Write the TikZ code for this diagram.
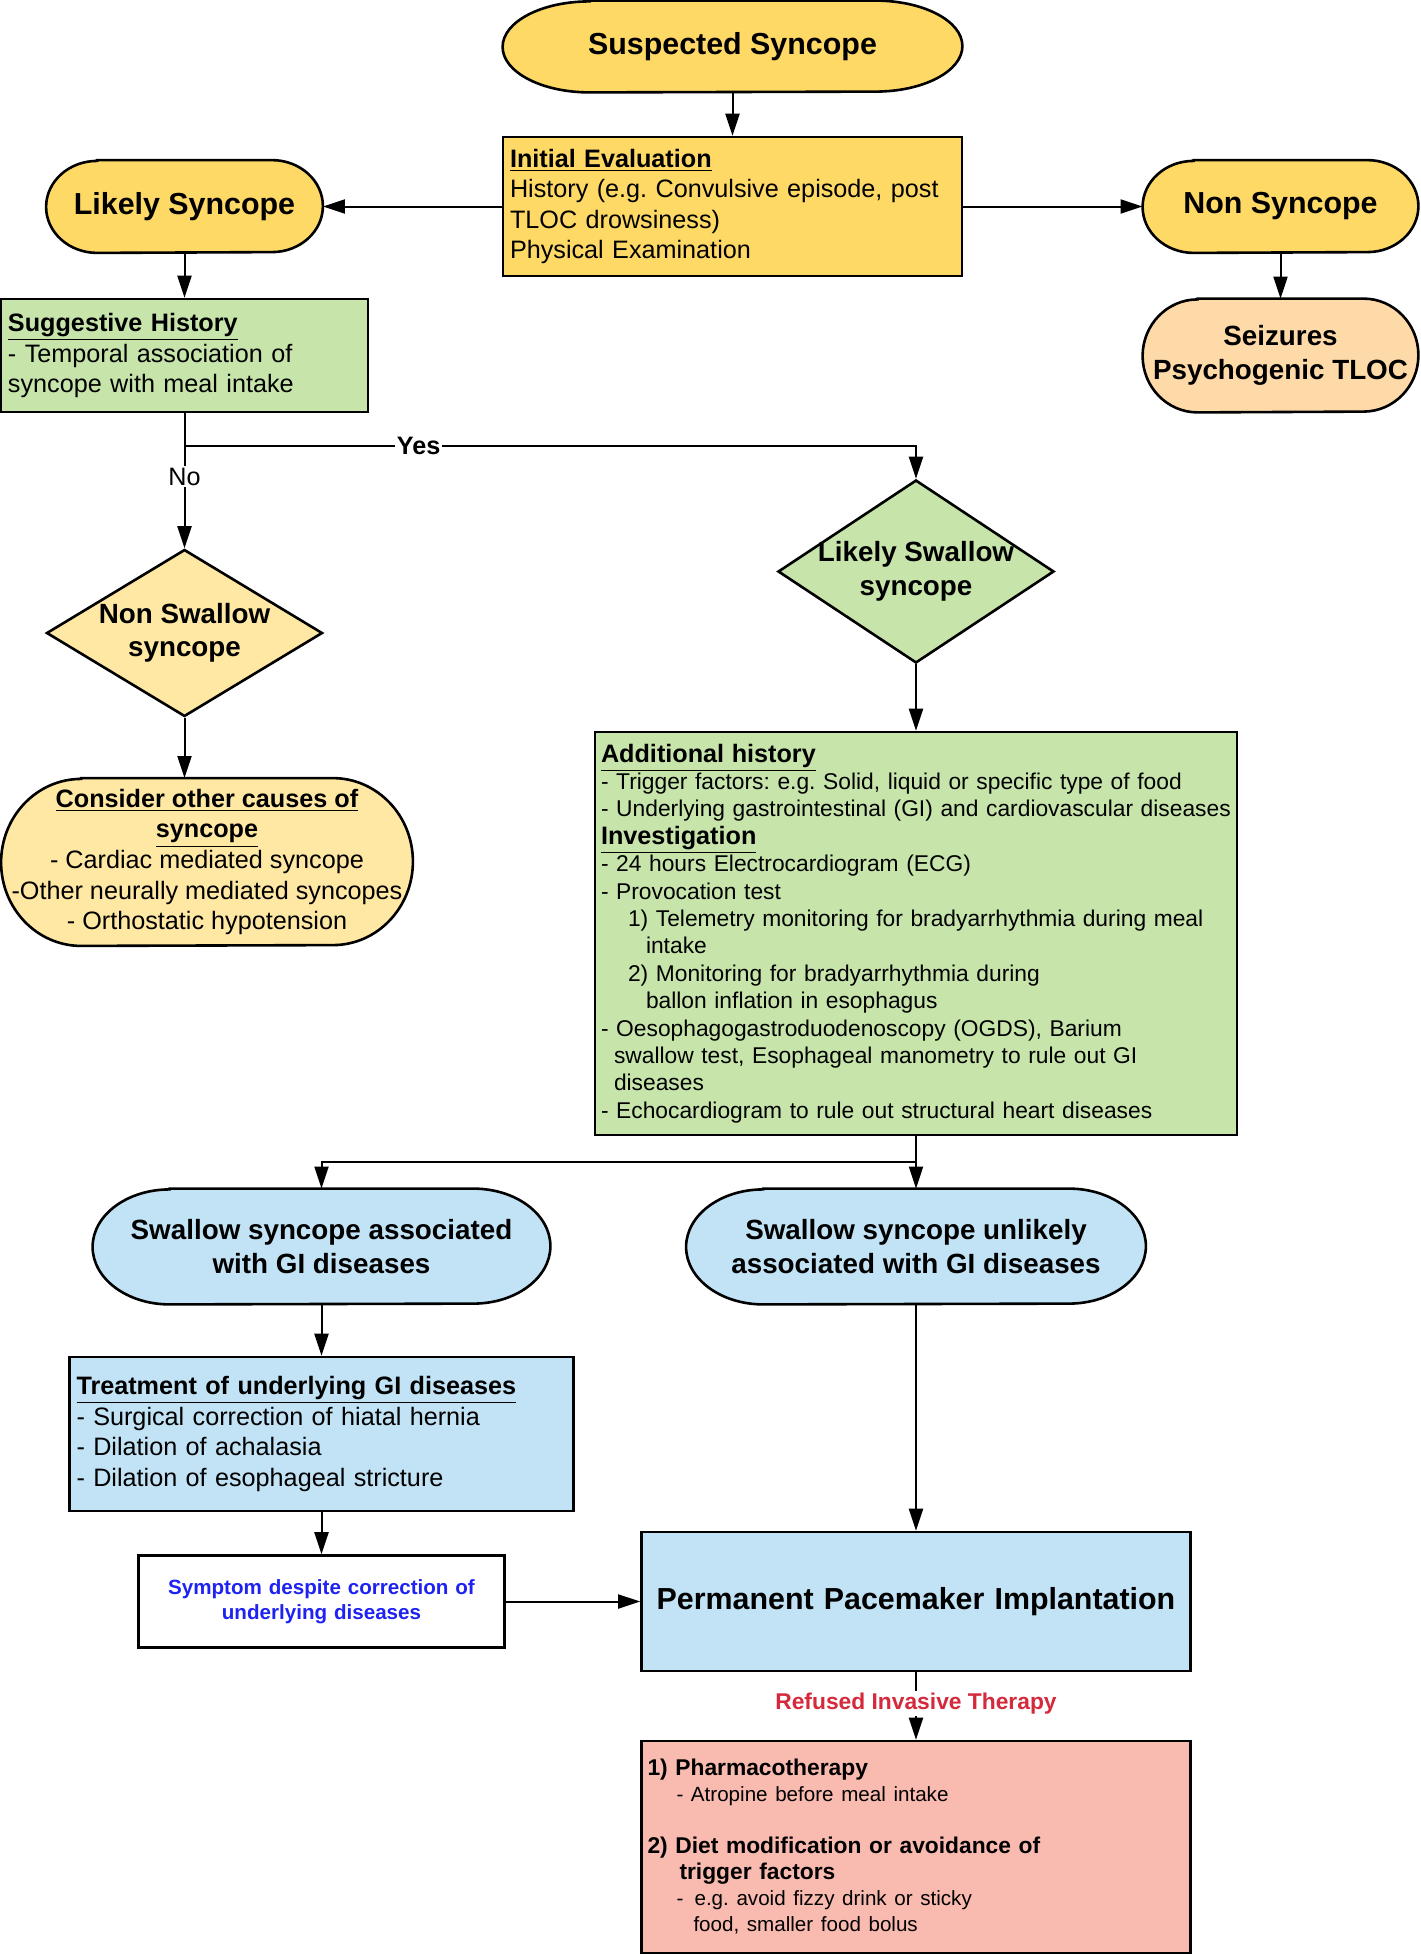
\documentclass[tikz,border=0pt]{standalone}
\usepackage{fontspec}
\setmainfont{Liberation Sans}
\usetikzlibrary{arrows.meta,shapes.geometric,backgrounds}
\frenchspacing

\definecolor{ylwA}{HTML}{FFD966}
\definecolor{ylwB}{HTML}{FFE8A3}
\definecolor{peach}{HTML}{FFDAA9}
\definecolor{grn}{HTML}{C7E5AB}
\definecolor{blu}{HTML}{C1E3F5}
\definecolor{pink}{HTML}{F9BAB0}
\definecolor{txtblue}{HTML}{1E22F2}
\definecolor{txtred}{HTML}{D42A3C}

\newcommand{\fTitle}{\fontsize{15.2}{18}\selectfont\bfseries}
\newcommand{\fShape}{\fontsize{13.9}{16.8}\selectfont\bfseries}
\newcommand{\fBody}{\fontsize{12.6}{15.3}\selectfont}
\newcommand{\fList}{\fontsize{11.4}{13.7}\selectfont}
\newcommand{\fNote}{\fontsize{10.3}{12.5}\selectfont}
\newcommand{\head}[1]{\underline{\textbf{#1}}}

% stadium outline behind a node: name, end radius, half height, fill
\newcommand{\termshape}[4]{%
  \filldraw[fill=#4, line width=1.3pt]
    ([xshift=#2]#1.north west) -- ([xshift=-#2]#1.north east)
    arc[start angle=90, end angle=-90, x radius=#2, y radius=#3]
    -- ([xshift=#2]#1.south west)
    arc[start angle=270, end angle=90, x radius=#2, y radius=#3] -- cycle;}

\begin{document}
\begin{tikzpicture}[x=0.5pt, y=-0.5pt,
    term/.style={rectangle, align=center, inner sep=0pt, font=\fTitle},
    box/.style={rectangle, draw, line width=1.3pt, align=left, inner xsep=3.5pt, inner ysep=0pt, font=\fBody},
    dec/.style={diamond, draw, line width=1.3pt, align=center, inner xsep=-14pt, inner ysep=0pt, aspect=1.5, font=\fShape},
    arr/.style={-{Triangle[length=11pt,width=7pt]}, line width=1pt},
    lbl/.style={fill=white, inner sep=1pt, font=\fBody}]
  \useasboundingbox (0,0) rectangle (1420,1955);

  \node[term, minimum width=229.5pt, minimum height=45.5pt] (sus) at (732.5,46.5) {Suspected Syncope};
  \node[box, fill=ylwA, text width=222.5pt, minimum height=69.5pt] (init) at (732.5,206.5)
    {\head{Initial Evaluation}\\ History (e.g. Convulsive episode, post\\ TLOC drowsiness)\\ Physical Examination};
  \node[term, minimum width=138pt, minimum height=46pt] (lik) at (184.5,206.5) {Likely Syncope};
  \node[term, minimum width=137.5pt, minimum height=46pt] (non) at (1280.5,206.5) {Non Syncope};
  \node[box, fill=grn, text width=176.5pt, minimum height=56.5pt] (sug) at (184.5,355.5)
    {\head{Suggestive History}\\ - Temporal association of\\ syncope with meal intake};
  \node[term, font=\fShape, minimum width=137.5pt, minimum height=56.5pt] (seiz) at (1280.5,355.5) {Seizures\\ Psychogenic TLOC};

  \coordinate (fork) at (184.5,446);
  \node[dec, fill=ylwB, minimum width=138pt, minimum height=83.5pt] (nsw) at (184.5,633) {Non Swallow\\ syncope};
  \node[dec, fill=grn, minimum width=138pt, minimum height=91.5pt] (lsw) at (916,571.5) {Likely Swallow\\ syncope};
  \node[term, font=\fBody, minimum width=205.5pt, minimum height=83.5pt] (cons) at (207,862)
    {\head{Consider other causes of}\\ \head{syncope}\\ - Cardiac mediated syncope\\ -Other neurally mediated syncopes\\ - Orthostatic hypotension};

  \node[box, fill=grn, font=\fList, inner xsep=3pt, text width=315pt, minimum height=201.5pt] (add) at (916,933.5)
    {{\fBody\head{Additional history}}\\
     - Trigger factors: e.g. Solid, liquid or specific type of food\\
     - Underlying gastrointestinal (GI) and cardiovascular diseases\\
     {\fBody\head{Investigation}}\\
     - 24 hours Electrocardiogram (ECG)\\
     - Provocation test\\
     \hspace*{13.5pt}1) Telemetry monitoring for bradyarrhythmia during meal\\
     \hspace*{22.5pt}intake\\
     \hspace*{13.5pt}2) Monitoring for bradyarrhythmia during\\
     \hspace*{22.5pt}ballon inflation in esophagus\\
     - Oesophagogastroduodenoscopy (OGDS), Barium\\
     \hspace*{6.5pt}swallow test, Esophageal manometry to rule out GI\\
     \hspace*{6.5pt}diseases\\
     - Echocardiogram to rule out structural heart diseases};

  \coordinate (fork2) at (916,1162);
  \node[term, font=\fShape, minimum width=228.5pt, minimum height=57.5pt] (assoc) at (321.5,1246.5) {Swallow syncope associated\\ with GI diseases};
  \node[term, font=\fShape, minimum width=229.5pt, minimum height=57.5pt] (unl) at (916,1246.5) {Swallow syncope unlikely\\ associated with GI diseases};
  \node[box, fill=blu, text width=245pt, minimum height=77pt] (treat) at (321.5,1434)
    {\head{Treatment of underlying GI diseases}\\ - Surgical correction of hiatal hernia\\ - Dilation of achalasia\\ - Dilation of esophageal stricture};
  \node[box, fill=white, align=center, font=\fNote\bfseries, text=txtblue, text width=176pt, minimum height=46pt] (symp) at (321.5,1601.5)
    {Symptom despite correction of\\ underlying diseases};
  \node[box, fill=blu, align=center, font=\fTitle, text width=267.5pt, minimum height=69.5pt] (ppm) at (916,1601.5) {Permanent Pacemaker Implantation};
  \node[box, fill=pink, font=\fontsize{11.4}{13}\selectfont, inner xsep=3pt, text width=268.5pt, minimum height=106pt] (pharm) at (916,1847)
    {\textbf{1) Pharmacotherapy}\\
     \hspace*{14.5pt}{\fNote - Atropine before meal intake}\\[13pt]
     \textbf{2) Diet modification or avoidance of}\\
     \hspace*{16pt}\textbf{trigger factors}\\
     \hspace*{14.5pt}{\fNote -\hspace{5.6pt}e.g. avoid fizzy drink or sticky}\\
     \hspace*{23pt}{\fNote food, smaller food bolus}};

  \begin{scope}[on background layer]
    \termshape{sus}{43.5pt}{22.75pt}{ylwA}
    \termshape{lik}{25.5pt}{23pt}{ylwA}
    \termshape{non}{25.5pt}{23pt}{ylwA}
    \termshape{seiz}{27.5pt}{28.25pt}{peach}
    \termshape{cons}{40pt}{41.75pt}{ylwB}
    \termshape{assoc}{38.5pt}{28.75pt}{blu}
    \termshape{unl}{38.5pt}{28.75pt}{blu}
  \end{scope}

  \path[arr]
    (sus) edge (init)
    (init) edge (lik)
           edge (non)
    (lik) edge (sug)
    (non) edge (seiz)
    (lsw) edge (add)
    (assoc) edge (treat)
    (treat) edge (symp)
    (symp) edge (ppm)
    (unl) edge (ppm);
  \draw[line width=1pt] (sug) -- (fork);
  \draw[arr] (fork) -| node[lbl, pos=0.16, font=\fBody\bfseries] {Yes} (lsw);
  \draw[arr] (fork) -- node[lbl, pos=0.3] {No} (nsw);
  \draw[arr] (nsw) -- (nsw.south |- cons.north);
  \draw[line width=1pt] (add) -- (fork2);
  \draw[arr] (fork2) -| (assoc);
  \draw[arr] (fork2) -- (unl);
  \draw[arr] (ppm) -- node[lbl, pos=0.46, font=\fList\bfseries, text=txtred] {Refused Invasive Therapy} (pharm);
\end{tikzpicture}
\end{document}
